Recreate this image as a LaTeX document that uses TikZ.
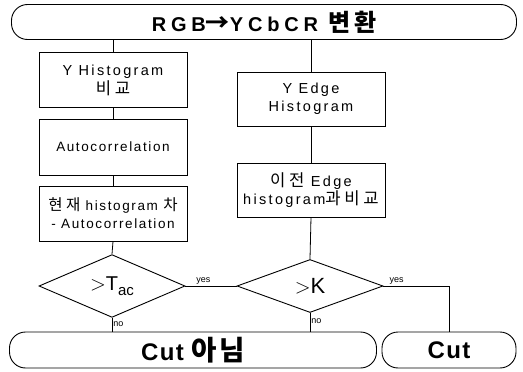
\documentclass[tikz,border=0pt]{standalone}
\usepackage{fontspec}
\setmainfont{Liberation Sans}
\newfontfamily\krfont[Scale=1.15,LetterSpace=8]{Noto Sans CJK KR}
\newfontfamily\spfont[LetterSpace=16]{Liberation Sans}
\newfontfamily\spfontb[LetterSpace=12]{Liberation Sans}
\newfontfamily\krspfont[Scale=1.15,LetterSpace=22]{Noto Sans CJK KR}
\newfontfamily\krtitle[Scale=1.2,LetterSpace=15]{Noto Sans CJK KR}
\newfontfamily\bspfont[LetterSpace=24]{Liberation Sans}
\newfontfamily\cutfont[LetterSpace=6]{Liberation Sans}
\usetikzlibrary{shapes.geometric}
\tikzset{
  lw/.style={line width=0.9pt},
  term/.style={lw, draw, rounded corners=16pt, inner sep=0pt, font=\bfseries},
  procbox/.style={lw, draw, minimum width=148pt, minimum height=55pt, inner sep=0pt, align=center, font=\fontsize{14.5}{18}\spfont},
  smallbox/.style={procbox, font=\fontsize{13.5}{18}\spfontb},
  decision/.style={lw, draw, diamond, inner sep=0pt, minimum width=146pt, minimum height=53pt},
  conn/.style={line width=0.8pt},
  lab/.style={font=\fontsize{9}{10}\selectfont, inner sep=1pt}
}
\begin{document}
\begin{tikzpicture}[x=1pt,y=-1pt]
\useasboundingbox (0,0) rectangle (523,372);
% top terminal
\node[term, minimum width=505pt, minimum height=35pt] (top) at (264,22)
  {\fontsize{20}{22}\bspfont RGB{\krtitle\bfseries →}YCbCR {\krtitle\bfseries 변환}};
% left column
\node[procbox] (b1) at (113,80) {Y Histogram\\[1pt]{\krspfont 비교}};
\node[smallbox, minimum height=56pt] (b2) at (113,147) {Autocorrelation};
\node[smallbox] (b3) at (113,213.5) {{\krspfont 현재} histogram {\krspfont 차}\\- Autocorrelation};
\node[decision] (d1) at (112,286) {\fontsize{20}{22}\selectfont$>$T\raisebox{-5pt}{\fontsize{15}{16}\selectfont ac}};
% right column
\node[procbox, minimum height=54pt] (r1) at (311,99) {Y Edge\\Histogram};
\node[procbox, minimum height=54pt] (r2) at (311,190) {{\krspfont 이전} Edge\\histogram{\krspfont 과비교}};
\node[decision, minimum width=146pt] (d2) at (310,286) {\fontsize{22}{24}\spfont$>$K};
% bottom terminals
\node[term, minimum width=367pt, minimum height=36pt] (cutno) at (193,350)
  {\fontsize{24}{26}\cutfont\bfseries Cut {\krfont\bfseries 아님}};
\node[term, minimum width=134pt, minimum height=36pt] (cut) at (449,350)
  {\fontsize{24}{26}\cutfont\bfseries Cut};
% connectors
\draw[conn] (b1.north |- top.south) -- (b1.north);
\draw[conn] (r1.north |- top.south) -- (r1.north);
\draw[conn] (b1) -- (b2);
\draw[conn] (b2) -- (b3);
\draw[conn] (b3.south) -- (d1.north);
\draw[conn] (r1) -- (r2);
\draw[conn] (r2.south) -- (d2.north);
\draw[conn] (d1.east) -- node[lab, pos=0.35, above] {yes} (d2.west);
\draw[conn] (d2.east) -- node[lab, pos=0.2, above] {yes} (cut.north |- d2.east) -- (cut.north);
\draw[conn] (d1.south) -- node[lab, right, pos=0.45] {no} (d1.south |- cutno.north);
\draw[conn] (d2.south) -- node[lab, right, pos=0.45] {no} (d2.south |- cutno.north);
\end{tikzpicture}
\end{document}
